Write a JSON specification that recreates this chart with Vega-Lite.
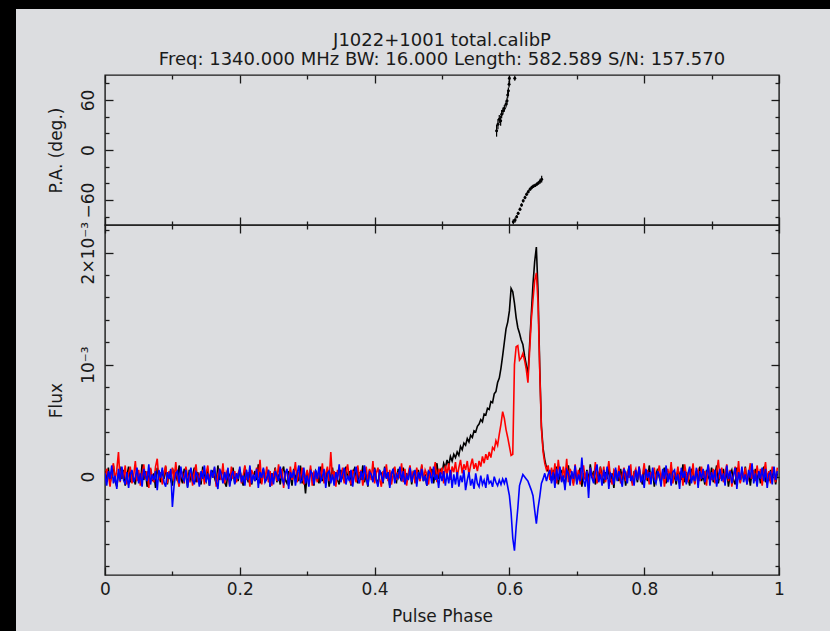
{
"$schema":"https://vega.github.io/schema/vega-lite/v6.json",
"background":"#dcdde0",
"padding":0,
"spacing":0,
"bounds":"flush",
"config":{
 "font":"DejaVu Sans",
 "view":{"stroke":"#1a1a1a","strokeWidth":1.4},
 "axis":{"domain":false,"grid":false,"labelFont":"DejaVu Sans","labelFontSize":17,"labelColor":"#1a1a1a","titleFont":"DejaVu Sans","titleFontSize":17,"titleFontWeight":"normal","titleColor":"#1a1a1a","tickColor":"#1a1a1a","tickWidth":1.3,"labelFlush":false,"labelOverlap":false},
 "title":{"font":"DejaVu Sans","fontSize":18,"fontWeight":"normal","color":"#1a1a1a"}
},
"datasets":{
"flux":[
{"p":0,"I":5,"L":-4,"V":3},{"p":0.0025,"I":-3,"L":7,"V":-8},{"p":0.005,"I":8,"L":2,"V":5},{"p":0.0075,"I":-6,"L":-9,"V":-2},{"p":0.01,"I":2,"L":5,"V":10},{"p":0.0125,"I":10,"L":12,"V":-6},{"p":0.015,"I":-4,"L":-3,"V":1},{"p":0.0175,"I":-9,"L":6,"V":-11},{"p":0.02,"I":3,"L":22,"V":7},{"p":0.0225,"I":7,"L":-5,"V":-4},
{"p":0.025,"I":-2,"L":8,"V":9},{"p":0.0275,"I":6,"L":-2,"V":-3},{"p":0.03,"I":-8,"L":10,"V":-7},{"p":0.0325,"I":1,"L":-7,"V":4},{"p":0.035,"I":9,"L":3,"V":-10},{"p":0.0375,"I":-5,"L":9,"V":2},{"p":0.04,"I":4,"L":-6,"V":6},{"p":0.0425,"I":-1,"L":1,"V":-5},{"p":0.045,"I":-7,"L":14,"V":-1},{"p":0.0475,"I":6,"L":-4,"V":8},
{"p":0.05,"I":2,"L":6,"V":-6},{"p":0.0525,"I":-6,"L":-8,"V":3},{"p":0.055,"I":11,"L":3,"V":-9},{"p":0.0575,"I":-3,"L":11,"V":7},{"p":0.06,"I":5,"L":-2,"V":1},{"p":0.0625,"I":-9,"L":5,"V":-4},{"p":0.065,"I":0,"L":-10,"V":11},{"p":0.0675,"I":7,"L":8,"V":-7},{"p":0.07,"I":-4,"L":0,"V":2},{"p":0.0725,"I":3,"L":-5,"V":-3},
{"p":0.075,"I":-10,"L":9,"V":5},{"p":0.0775,"I":8,"L":16,"V":-12},{"p":0.08,"I":1,"L":-3,"V":6},{"p":0.0825,"I":-5,"L":4,"V":-1},{"p":0.085,"I":6,"L":-7,"V":8},{"p":0.0875,"I":-2,"L":2,"V":-5},{"p":0.09,"I":9,"L":10,"V":-9},{"p":0.0925,"I":-7,"L":-6,"V":4},{"p":0.095,"I":4,"L":5,"V":-2},{"p":0.0975,"I":-3,"L":-1,"V":7},
{"p":0.1,"I":-8,"L":8,"V":-27},{"p":0.1025,"I":5,"L":-4,"V":-8},{"p":0.105,"I":2,"L":13,"V":3},{"p":0.1075,"I":-4,"L":-2,"V":5},{"p":0.11,"I":10,"L":-9,"V":-6},{"p":0.1125,"I":-1,"L":6,"V":9},{"p":0.115,"I":-6,"L":3,"V":-1},{"p":0.1175,"I":7,"L":-6,"V":-4},{"p":0.12,"I":3,"L":9,"V":6},{"p":0.1225,"I":-9,"L":1,"V":-10},
{"p":0.125,"I":6,"L":-3,"V":2},{"p":0.1275,"I":-3,"L":7,"V":8},{"p":0.13,"I":1,"L":-8,"V":-3},{"p":0.1325,"I":8,"L":4,"V":-7},{"p":0.135,"I":-5,"L":11,"V":4},{"p":0.1375,"I":4,"L":-5,"V":1},{"p":0.14,"I":-2,"L":2,"V":-9},{"p":0.1425,"I":-7,"L":-2,"V":5},{"p":0.145,"I":9,"L":6,"V":-2},{"p":0.1475,"I":0,"L":-7,"V":10},
{"p":0.15,"I":-4,"L":3,"V":-5},{"p":0.1525,"I":6,"L":10,"V":3},{"p":0.155,"I":-8,"L":-4,"V":-8},{"p":0.1575,"I":3,"L":5,"V":6},{"p":0.16,"I":5,"L":-1,"V":-1},{"p":0.1625,"I":-1,"L":8,"V":9},{"p":0.165,"I":-6,"L":-9,"V":-4},{"p":0.1675,"I":10,"L":2,"V":-11},{"p":0.17,"I":-3,"L":7,"V":7},{"p":0.1725,"I":2,"L":-3,"V":2},
{"p":0.175,"I":7,"L":12,"V":-6},{"p":0.1775,"I":-5,"L":-6,"V":4},{"p":0.18,"I":-9,"L":4,"V":-3},{"p":0.1825,"I":4,"L":0,"V":8},{"p":0.185,"I":1,"L":-8,"V":-9},{"p":0.1875,"I":-2,"L":9,"V":1},{"p":0.19,"I":8,"L":-2,"V":5},{"p":0.1925,"I":-6,"L":5,"V":-7},{"p":0.195,"I":3,"L":-5,"V":3},{"p":0.1975,"I":-4,"L":3,"V":-2},
{"p":0.2,"I":6,"L":7,"V":9},{"p":0.2025,"I":-1,"L":-6,"V":-5},{"p":0.205,"I":-8,"L":1,"V":1},{"p":0.2075,"I":9,"L":10,"V":-8},{"p":0.21,"I":2,"L":-3,"V":6},{"p":0.2125,"I":-5,"L":4,"V":-3},{"p":0.215,"I":4,"L":-9,"V":10},{"p":0.2175,"I":-7,"L":6,"V":-6},{"p":0.22,"I":0,"L":2,"V":2},{"p":0.2225,"I":5,"L":-4,"V":-4},
{"p":0.225,"I":-3,"L":8,"V":7},{"p":0.2275,"I":11,"L":-1,"V":-10},{"p":0.23,"I":-6,"L":15,"V":4},{"p":0.2325,"I":1,"L":-7,"V":-1},{"p":0.235,"I":7,"L":3,"V":8},{"p":0.2375,"I":-4,"L":-2,"V":-5},{"p":0.24,"I":-2,"L":9,"V":-2},{"p":0.2425,"I":6,"L":-5,"V":6},{"p":0.245,"I":-9,"L":5,"V":-9},{"p":0.2475,"I":3,"L":-8,"V":3},
{"p":0.25,"I":-1,"L":2,"V":-7},{"p":0.2525,"I":8,"L":6,"V":5},{"p":0.255,"I":-5,"L":-4,"V":1},{"p":0.2575,"I":2,"L":11,"V":-4},{"p":0.26,"I":-7,"L":-1,"V":9},{"p":0.2625,"I":4,"L":7,"V":-2},{"p":0.265,"I":9,"L":-10,"V":-6},{"p":0.2675,"I":-3,"L":3,"V":3},{"p":0.27,"I":-6,"L":5,"V":7},{"p":0.2725,"I":5,"L":-6,"V":-11},
{"p":0.275,"I":0,"L":9,"V":4},{"p":0.2775,"I":-8,"L":-3,"V":-1},{"p":0.28,"I":7,"L":1,"V":6},{"p":0.2825,"I":-2,"L":13,"V":-8},{"p":0.285,"I":3,"L":-5,"V":2},{"p":0.2875,"I":-4,"L":4,"V":10},{"p":0.29,"I":10,"L":-2,"V":-5},{"p":0.2925,"I":-6,"L":8,"V":-3},{"p":0.295,"I":1,"L":-7,"V":8},{"p":0.2975,"I":-15,"L":0,"V":-6},
{"p":0.3,"I":4,"L":6,"V":1},{"p":0.3025,"I":-3,"L":-3,"V":-9},{"p":0.305,"I":7,"L":10,"V":5},{"p":0.3075,"I":-1,"L":-8,"V":3},{"p":0.31,"I":-8,"L":4,"V":-7},{"p":0.3125,"I":5,"L":2,"V":6},{"p":0.315,"I":2,"L":-5,"V":-2},{"p":0.3175,"I":-6,"L":7,"V":9},{"p":0.32,"I":9,"L":-1,"V":-4},{"p":0.3225,"I":-4,"L":12,"V":-1},
{"p":0.325,"I":3,"L":-6,"V":7},{"p":0.3275,"I":-2,"L":3,"V":-10},{"p":0.33,"I":6,"L":9,"V":3},{"p":0.3325,"I":-9,"L":-4,"V":5},{"p":0.335,"I":1,"L":22,"V":-6},{"p":0.3375,"I":8,"L":-2,"V":2},{"p":0.34,"I":-5,"L":5,"V":-8},{"p":0.3425,"I":4,"L":-9,"V":4},{"p":0.345,"I":-3,"L":6,"V":-3},{"p":0.3475,"I":-7,"L":1,"V":11},
{"p":0.35,"I":6,"L":-3,"V":-5},{"p":0.3525,"I":0,"L":8,"V":2},{"p":0.355,"I":-4,"L":-6,"V":8},{"p":0.3575,"I":9,"L":4,"V":-7},{"p":0.36,"I":-2,"L":11,"V":1},{"p":0.3625,"I":5,"L":-2,"V":-4},{"p":0.365,"I":-8,"L":-7,"V":6},{"p":0.3675,"I":3,"L":5,"V":-9},{"p":0.37,"I":7,"L":3,"V":3},{"p":0.3725,"I":-1,"L":-5,"V":9},
{"p":0.375,"I":-6,"L":10,"V":-2},{"p":0.3775,"I":4,"L":-1,"V":-6},{"p":0.38,"I":-3,"L":6,"V":5},{"p":0.3825,"I":10,"L":-8,"V":-3},{"p":0.385,"I":-5,"L":2,"V":10},{"p":0.3875,"I":2,"L":9,"V":-1},{"p":0.39,"I":-9,"L":-4,"V":-8},{"p":0.3925,"I":6,"L":7,"V":4},{"p":0.395,"I":1,"L":-3,"V":2},{"p":0.3975,"I":-4,"L":14,"V":-5},
{"p":0.4,"I":8,"L":-6,"V":7},{"p":0.4025,"I":-2,"L":3,"V":-3},{"p":0.405,"I":-7,"L":8,"V":-9},{"p":0.4075,"I":5,"L":-2,"V":6},{"p":0.41,"I":3,"L":-9,"V":1},{"p":0.4125,"I":-6,"L":5,"V":-5},{"p":0.415,"I":9,"L":1,"V":8},{"p":0.4175,"I":-1,"L":11,"V":-2},{"p":0.42,"I":4,"L":-4,"V":4},{"p":0.4225,"I":-8,"L":6,"V":-10},
{"p":0.425,"I":2,"L":-7,"V":3},{"p":0.4275,"I":6,"L":2,"V":7},{"p":0.43,"I":-3,"L":9,"V":-6},{"p":0.4325,"I":-5,"L":-3,"V":2},{"p":0.435,"I":7,"L":4,"V":-1},{"p":0.4375,"I":0,"L":-1,"V":9},{"p":0.44,"I":-4,"L":12,"V":-4},{"p":0.4425,"I":8,"L":-5,"V":5},{"p":0.445,"I":-6,"L":7,"V":-7},{"p":0.4475,"I":3,"L":-8,"V":1},
{"p":0.45,"I":-2,"L":3,"V":-3},{"p":0.4525,"I":9,"L":10,"V":8},{"p":0.455,"I":-7,"L":-2,"V":-5},{"p":0.4575,"I":4,"L":5,"V":2},{"p":0.46,"I":1,"L":-6,"V":6},{"p":0.4625,"I":-5,"L":8,"V":-9},{"p":0.465,"I":6,"L":0,"V":4},{"p":0.4675,"I":-3,"L":-4,"V":-2},{"p":0.47,"I":10,"L":11,"V":7},{"p":0.4725,"I":-4,"L":-3,"V":-4},
{"p":0.475,"I":2,"L":6,"V":1},{"p":0.4775,"I":-8,"L":2,"V":-8},{"p":0.48,"I":5,"L":-7,"V":5},{"p":0.4825,"I":-1,"L":9,"V":3},{"p":0.485,"I":7,"L":-1,"V":-6},{"p":0.4875,"I":-6,"L":4,"V":9},{"p":0.49,"I":3,"L":13,"V":-3},{"p":0.4925,"I":12,"L":-5,"V":2},{"p":0.495,"I":-2,"L":7,"V":-10},{"p":0.4975,"I":6,"L":2,"V":4},
{"p":0.5,"I":3,"L":8,"V":-4},{"p":0.5025,"I":12,"L":-6,"V":5},{"p":0.505,"I":8,"L":10,"V":-8},{"p":0.5075,"I":15,"L":2,"V":3},{"p":0.51,"I":10,"L":12,"V":-6},{"p":0.5125,"I":18,"L":-3,"V":6},{"p":0.515,"I":14,"L":9,"V":-10},{"p":0.5175,"I":20,"L":4,"V":2},{"p":0.52,"I":17,"L":13,"V":-7},{"p":0.5225,"I":22,"L":0,"V":4},
{"p":0.525,"I":19,"L":8,"V":-9},{"p":0.5275,"I":27,"L":15,"V":1},{"p":0.53,"I":24,"L":3,"V":-5},{"p":0.5325,"I":30,"L":11,"V":6},{"p":0.535,"I":28,"L":6,"V":-12},{"p":0.5375,"I":34,"L":14,"V":-3},{"p":0.54,"I":31,"L":2,"V":4},{"p":0.5425,"I":37,"L":10,"V":-8},{"p":0.545,"I":35,"L":16,"V":-2},{"p":0.5475,"I":41,"L":7,"V":-11},
{"p":0.55,"I":40,"L":12,"V":3},{"p":0.5525,"I":45,"L":5,"V":-6},{"p":0.555,"I":47,"L":14,"V":-9},{"p":0.5575,"I":51,"L":9,"V":1},{"p":0.56,"I":49,"L":18,"V":-7},{"p":0.5625,"I":56,"L":12,"V":-3},{"p":0.565,"I":55,"L":20,"V":-10},{"p":0.5675,"I":61,"L":15,"V":2},{"p":0.57,"I":60,"L":22,"V":-6},{"p":0.5725,"I":67,"L":17,"V":-4},
{"p":0.575,"I":66,"L":26,"V":-9},{"p":0.5775,"I":74,"L":24,"V":0},{"p":0.58,"I":76,"L":32,"V":-5},{"p":0.5825,"I":84,"L":28,"V":-8},{"p":0.585,"I":88,"L":38,"V":-3},{"p":0.5875,"I":97,"L":47,"V":-7},{"p":0.59,"I":108,"L":58,"V":-2},{"p":0.5925,"I":120,"L":52,"V":-6},{"p":0.595,"I":132,"L":42,"V":-1},{"p":0.5975,"I":138,"L":35,"V":-9},
{"p":0.6,"I":148,"L":27,"V":-17},{"p":0.6025,"I":168,"L":19,"V":-32},{"p":0.605,"I":165,"L":20,"V":-55},{"p":0.6075,"I":155,"L":100,"V":-66},{"p":0.61,"I":142,"L":116,"V":-45},{"p":0.6125,"I":133,"L":117,"V":-28},{"p":0.615,"I":128,"L":104,"V":-8},{"p":0.6175,"I":122,"L":106,"V":-3},{"p":0.62,"I":118,"L":110,"V":2},{"p":0.6225,"I":108,"L":104,"V":0},
{"p":0.625,"I":100,"L":96,"V":-2},{"p":0.6275,"I":90,"L":84,"V":-4},{"p":0.63,"I":118,"L":112,"V":-8},{"p":0.6325,"I":145,"L":140,"V":-12},{"p":0.635,"I":172,"L":158,"V":-17},{"p":0.6375,"I":192,"L":175,"V":-30},{"p":0.64,"I":205,"L":182,"V":-42},{"p":0.6425,"I":165,"L":155,"V":-28},{"p":0.645,"I":98,"L":95,"V":-18},{"p":0.6475,"I":45,"L":43,"V":-6},
{"p":0.65,"I":25,"L":22,"V":-2},{"p":0.6525,"I":15,"L":12,"V":3},{"p":0.655,"I":8,"L":6,"V":-4},{"p":0.6575,"I":5,"L":10,"V":2},{"p":0.66,"I":2,"L":-3,"V":6},
{"p":0.6625,"I":-4,"L":8,"V":-6},{"p":0.665,"I":6,"L":-3,"V":4},{"p":0.6675,"I":-2,"L":12,"V":-10},{"p":0.67,"I":9,"L":-6,"V":7},{"p":0.6725,"I":-7,"L":15,"V":-3},{"p":0.675,"I":3,"L":2,"V":9},{"p":0.6775,"I":5,"L":-4,"V":-5},{"p":0.68,"I":-1,"L":9,"V":1},{"p":0.6825,"I":-8,"L":-1,"V":-12},{"p":0.685,"I":4,"L":16,"V":6},
{"p":0.6875,"I":10,"L":-5,"V":3},{"p":0.69,"I":-3,"L":7,"V":-8},{"p":0.6925,"I":2,"L":3,"V":5},{"p":0.695,"I":-6,"L":-8,"V":-2},{"p":0.6975,"I":7,"L":11,"V":10},{"p":0.7,"I":-5,"L":-2,"V":-7},{"p":0.7025,"I":1,"L":6,"V":2},{"p":0.705,"I":8,"L":-7,"V":-4},{"p":0.7075,"I":-9,"L":4,"V":17},{"p":0.71,"I":3,"L":10,"V":-3},
{"p":0.7125,"I":-2,"L":-3,"V":-9},{"p":0.715,"I":6,"L":5,"V":5},{"p":0.7175,"I":-4,"L":-9,"V":-19},{"p":0.72,"I":11,"L":8,"V":8},{"p":0.7225,"I":-1,"L":1,"V":-1},{"p":0.725,"I":5,"L":-4,"V":-6},{"p":0.7275,"I":-7,"L":13,"V":4},{"p":0.73,"I":2,"L":-6,"V":11},{"p":0.7325,"I":-3,"L":3,"V":-5},{"p":0.735,"I":9,"L":7,"V":2},
{"p":0.7375,"I":0,"L":-2,"V":-8},{"p":0.74,"I":-6,"L":9,"V":6},{"p":0.7425,"I":4,"L":-5,"V":-3},{"p":0.745,"I":-2,"L":2,"V":9},{"p":0.7475,"I":8,"L":14,"V":-11},{"p":0.75,"I":-5,"L":-1,"V":3},{"p":0.7525,"I":3,"L":-7,"V":1},{"p":0.755,"I":-10,"L":6,"V":-7},{"p":0.7575,"I":6,"L":4,"V":8},{"p":0.76,"I":1,"L":-3,"V":-4},
{"p":0.7625,"I":-4,"L":10,"V":5},{"p":0.765,"I":7,"L":-6,"V":-2},{"p":0.7675,"I":-3,"L":2,"V":-9},{"p":0.77,"I":5,"L":8,"V":7},{"p":0.7725,"I":-8,"L":-4,"V":3},{"p":0.775,"I":2,"L":5,"V":-6},{"p":0.7775,"I":9,"L":-1,"V":10},{"p":0.78,"I":-1,"L":11,"V":-4},{"p":0.7825,"I":-6,"L":-8,"V":1},{"p":0.785,"I":4,"L":3,"V":-8},
{"p":0.7875,"I":3,"L":7,"V":6},{"p":0.79,"I":-5,"L":-2,"V":-3},{"p":0.7925,"I":8,"L":9,"V":9},{"p":0.795,"I":-2,"L":-5,"V":-5},{"p":0.7975,"I":-7,"L":1,"V":2},{"p":0.8,"I":6,"L":12,"V":-10},{"p":0.8025,"I":1,"L":-3,"V":7},{"p":0.805,"I":-4,"L":6,"V":-1},{"p":0.8075,"I":10,"L":-7,"V":4},{"p":0.81,"I":-3,"L":4,"V":-7},
{"p":0.8125,"I":5,"L":-1,"V":8},{"p":0.815,"I":-9,"L":8,"V":-3},{"p":0.8175,"I":2,"L":-5,"V":-6},{"p":0.82,"I":7,"L":3,"V":5},{"p":0.8225,"I":-1,"L":10,"V":1},{"p":0.825,"I":-5,"L":-4,"V":-9},{"p":0.8275,"I":4,"L":6,"V":7},{"p":0.83,"I":8,"L":-9,"V":-2},{"p":0.8325,"I":-6,"L":2,"V":10},{"p":0.835,"I":3,"L":7,"V":-5},
{"p":0.8375,"I":-2,"L":-2,"V":3},{"p":0.84,"I":9,"L":13,"V":-8},{"p":0.8425,"I":-4,"L":-6,"V":4},{"p":0.845,"I":1,"L":4,"V":6},{"p":0.8475,"I":-7,"L":-1,"V":-4},{"p":0.85,"I":6,"L":9,"V":2},{"p":0.8525,"I":2,"L":-3,"V":-11},{"p":0.855,"I":-3,"L":5,"V":8},{"p":0.8575,"I":11,"L":-8,"V":-1},{"p":0.86,"I":-5,"L":11,"V":5},
{"p":0.8625,"I":4,"L":2,"V":-7},{"p":0.865,"I":-1,"L":-5,"V":3},{"p":0.8675,"I":-8,"L":7,"V":9},{"p":0.87,"I":7,"L":-2,"V":-6},{"p":0.8725,"I":3,"L":12,"V":1},{"p":0.875,"I":-6,"L":-7,"V":-4},{"p":0.8775,"I":5,"L":3,"V":8},{"p":0.88,"I":-2,"L":6,"V":-10},{"p":0.8825,"I":9,"L":-4,"V":5},{"p":0.885,"I":-4,"L":9,"V":-2},
{"p":0.8875,"I":1,"L":-1,"V":7},{"p":0.89,"I":-7,"L":5,"V":-5},{"p":0.8925,"I":6,"L":-8,"V":2},{"p":0.895,"I":0,"L":10,"V":11},{"p":0.8975,"I":-3,"L":2,"V":-8},{"p":0.9,"I":8,"L":-3,"V":4},{"p":0.9025,"I":-5,"L":7,"V":-3},{"p":0.905,"I":2,"L":-6,"V":6},{"p":0.9075,"I":10,"L":4,"V":-9},{"p":0.91,"I":-6,"L":15,"V":1},
{"p":0.9125,"I":3,"L":-2,"V":7},{"p":0.915,"I":-1,"L":8,"V":-4},{"p":0.9175,"I":7,"L":-5,"V":3},{"p":0.92,"I":-4,"L":3,"V":-8},{"p":0.9225,"I":5,"L":11,"V":10},{"p":0.925,"I":-9,"L":-4,"V":-2},{"p":0.9275,"I":2,"L":6,"V":5},{"p":0.93,"I":6,"L":-9,"V":-6},{"p":0.9325,"I":-3,"L":1,"V":1},{"p":0.935,"I":-7,"L":9,"V":8},
{"p":0.9375,"I":8,"L":-3,"V":-11},{"p":0.94,"I":1,"L":14,"V":4},{"p":0.9425,"I":-5,"L":-6,"V":-3},{"p":0.945,"I":4,"L":5,"V":9},{"p":0.9475,"I":-2,"L":-1,"V":-5},{"p":0.95,"I":9,"L":8,"V":2},{"p":0.9525,"I":-6,"L":-7,"V":-7},{"p":0.955,"I":3,"L":3,"V":6},{"p":0.9575,"I":-8,"L":12,"V":-1},{"p":0.96,"I":5,"L":-2,"V":12},
{"p":0.9625,"I":-1,"L":6,"V":-6},{"p":0.965,"I":7,"L":-4,"V":3},{"p":0.9675,"I":-3,"L":10,"V":-9},{"p":0.97,"I":4,"L":-1,"V":5},{"p":0.9725,"I":-6,"L":7,"V":-2},{"p":0.975,"I":2,"L":-8,"V":8},{"p":0.9775,"I":9,"L":4,"V":-4},{"p":0.98,"I":-5,"L":13,"V":7},{"p":0.9825,"I":1,"L":-3,"V":-10},{"p":0.985,"I":-4,"L":5,"V":2},
{"p":0.9875,"I":6,"L":-6,"V":4},{"p":0.99,"I":-2,"L":9,"V":-7},{"p":0.9925,"I":8,"L":2,"V":9},{"p":0.995,"I":-7,"L":-5,"V":-3},{"p":0.9975,"I":3,"L":8,"V":5}
],
"pa":[
{"p":0.581,"pa":23,"e":7},{"p":0.583,"pa":31,"e":6},{"p":0.585,"pa":37,"e":5},{"p":0.587,"pa":35,"e":6},{"p":0.5885,"pa":43,"e":5},{"p":0.5905,"pa":47,"e":4},{"p":0.5925,"pa":50,"e":4},{"p":0.595,"pa":55,"e":4},{"p":0.5965,"pa":59,"e":4},{"p":0.5975,"pa":66,"e":4},{"p":0.5985,"pa":71,"e":4},{"p":0.5995,"pa":79,"e":4},{"p":0.6,"pa":86,"e":3},{"p":0.608,"pa":86,"e":3},
{"p":0.6058,"pa":-86,"e":3},{"p":0.6085,"pa":-84,"e":3},{"p":0.6108,"pa":-80,"e":2},{"p":0.613,"pa":-76,"e":2},{"p":0.6157,"pa":-71,"e":2},{"p":0.618,"pa":-66,"e":2},{"p":0.6205,"pa":-61,"e":2},{"p":0.6231,"pa":-57,"e":2},{"p":0.6255,"pa":-53,"e":2},{"p":0.628,"pa":-50,"e":2},{"p":0.6306,"pa":-47,"e":2},{"p":0.633,"pa":-45,"e":2},{"p":0.6355,"pa":-43.5,"e":2},{"p":0.638,"pa":-42.5,"e":2},{"p":0.6405,"pa":-41,"e":2},{"p":0.643,"pa":-39.5,"e":2},{"p":0.6455,"pa":-37.5,"e":3},{"p":0.6479,"pa":-35,"e":4}
]
},
"vconcat":[
 {"width":830,"height":9,"view":{"fill":"black","stroke":null},"data":{"values":[{}]},"mark":{"type":"point","opacity":0},"encoding":{}},
 {"spacing":0,"bounds":"flush","hconcat":[
  {"width":16,"height":622,"view":{"fill":"black","stroke":null},"data":{"values":[{}]},"mark":{"type":"point","opacity":0},"encoding":{}},
  {"width":89,"height":622,"view":{"stroke":null},"data":{"values":[{}]},"mark":{"type":"point","opacity":0},"encoding":{}},
  {"spacing":0,"bounds":"flush","vconcat":[
   {"width":674,"height":66,"view":{"stroke":null},"data":{"values":[{}]},"mark":{"type":"point","opacity":0},"encoding":{}},
   {"width":674,"height":150,
    "title":{"text":["J1022+1001 total.calibP","Freq: 1340.000 MHz BW: 16.000 Length: 582.589 S/N: 157.570"],"anchor":"middle","offset":5,"lineHeight":19},
    "data":{"name":"pa"},
    "layer":[
     {"mark":{"type":"errorbar","color":"black","thickness":1.2},
      "encoding":{
       "x":{"field":"p","type":"quantitative","scale":{"domain":[0,1],"nice":false,"zero":false},
            "axis":{"values":[0,0.1,0.2,0.3,0.4,0.5,0.6,0.7,0.8,0.9,1],"labels":false,"title":null,"tickSize":{"condition":{"test":"round(datum.value*10)%2==0","value":-8},"value":-4}}},
       "y":{"field":"pa","type":"quantitative","scale":{"domain":[-90,90],"nice":false,"zero":false},
            "axis":{"values":[-80,-60,-40,-20,0,20,40,60,80],"tickSize":{"condition":{"test":"datum.value%60==0","value":-8},"value":-4},"labelExpr":"datum.value%60==0 ? format(datum.value,'d') : ''","labelAngle":-90,"labelAlign":"center","labelBaseline":"alphabetic","labelPadding":20,"title":"P.A. (deg.)","titleAngle":-90,"titleX":-44,"titleY":75,"titleAlign":"center","titleBaseline":"alphabetic"}},
       "yError":{"field":"e"}
      }},
     {"mark":{"type":"point","filled":true,"color":"black","size":9,"opacity":1},
      "encoding":{
       "x":{"field":"p","type":"quantitative","axis":{"orient":"top","values":[0,0.1,0.2,0.3,0.4,0.5,0.6,0.7,0.8,0.9,1],"labels":false,"title":null,"tickSize":{"condition":{"test":"round(datum.value*10)%2==0","value":-8},"value":-4}}},
       "y":{"field":"pa","type":"quantitative","axis":{"orient":"right","values":[-80,-60,-40,-20,0,20,40,60,80],"labels":false,"title":null,"tickSize":{"condition":{"test":"datum.value%60==0","value":-8},"value":-4}}}
      }}
    ],
    "resolve":{"axis":{"x":"independent","y":"independent"}}
   },
   {"width":674,"height":350,
    "data":{"name":"flux"},
    "layer":[
     {"mark":{"type":"line","color":"black","strokeWidth":1.6,"clip":true},
      "encoding":{
       "x":{"field":"p","type":"quantitative","scale":{"domain":[0,1],"nice":false,"zero":false},
            "axis":{"values":[0,0.1,0.2,0.3,0.4,0.5,0.6,0.7,0.8,0.9,1],"tickSize":{"condition":{"test":"round(datum.value*10)%2==0","value":-8},"value":-4},"labelExpr":"round(datum.value*10)%2==0 ? format(datum.value,'~g') : ''","labelPadding":14,"title":"Pulse Phase","titleX":337,"titleY":46,"titleAlign":"center","titleBaseline":"alphabetic"}},
       "y":{"field":"I","type":"quantitative","scale":{"domain":[-87.8,224.7],"nice":false,"zero":false},
            "axis":{"values":[-80,-60,-40,-20,0,20,40,60,80,100,120,140,160,180,200,220],"tickSize":{"condition":{"test":"datum.value%100==0","value":-8},"value":-4},"labelExpr":"datum.value==0 ? '0' : datum.value==100 ? '10⁻³' : datum.value==200 ? '2×10⁻³' : ''","labelAngle":-90,"labelAlign":"center","labelBaseline":"alphabetic","labelPadding":20,"title":"Flux","titleAngle":-90,"titleX":-44,"titleY":175,"titleAlign":"center","titleBaseline":"alphabetic"}}
      }},
     {"mark":{"type":"line","color":"#ff0000","strokeWidth":1.6,"clip":true},
      "encoding":{
       "x":{"field":"p","type":"quantitative","axis":{"orient":"top","values":[0,0.1,0.2,0.3,0.4,0.5,0.6,0.7,0.8,0.9,1],"labels":false,"title":null,"tickSize":{"condition":{"test":"round(datum.value*10)%2==0","value":-8},"value":-4}}},
       "y":{"field":"L","type":"quantitative","axis":{"orient":"right","values":[-80,-60,-40,-20,0,20,40,60,80,100,120,140,160,180,200,220],"labels":false,"title":null,"tickSize":{"condition":{"test":"datum.value%100==0","value":-8},"value":-4}}}
      }},
     {"mark":{"type":"line","color":"#0000ff","strokeWidth":1.6,"clip":true},
      "encoding":{
       "x":{"field":"p","type":"quantitative","axis":null},
       "y":{"field":"V","type":"quantitative","axis":null}
      }}
    ],
    "resolve":{"axis":{"x":"independent","y":"independent"}}
   },
   {"width":674,"height":56,"view":{"stroke":null},"data":{"values":[{}]},"mark":{"type":"point","opacity":0},"encoding":{}}
  ]},
  {"width":51,"height":622,"view":{"stroke":null},"data":{"values":[{}]},"mark":{"type":"point","opacity":0},"encoding":{}}
 ]}
]
}
